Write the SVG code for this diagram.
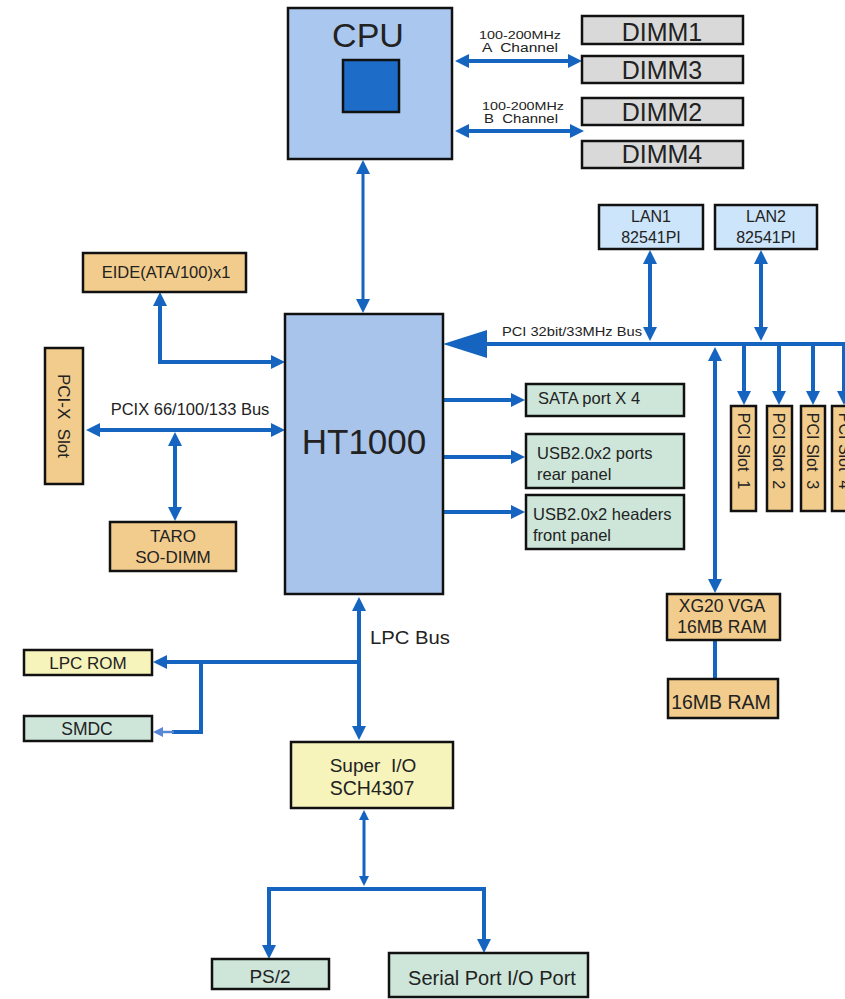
<svg xmlns="http://www.w3.org/2000/svg" width="845" height="999" viewBox="0 0 845 999">
<style>
.box{stroke:#111;stroke-width:2.5}
.cpu{fill:#aac8ef}
.ht{fill:#a9c4ea}
.gray{fill:#d9d9d9}
.org{fill:#f2cc8c}
.grn{fill:#cde6d9}
.yel{fill:#f6f3bb}
.lan{fill:#cde5fa}
text{font-family:"Liberation Sans",Arial,sans-serif;fill:#222;white-space:pre}
.c{text-anchor:middle}
.ln{fill:none;stroke:#1565c0;stroke-width:4}
</style>
<defs>
<marker id="a" viewBox="0 0 14 14" markerWidth="14" markerHeight="14" refX="10" refY="7" orient="auto-start-reverse" markerUnits="userSpaceOnUse"><path d="M0,0 L14,7 L0,14 z" fill="#1565c0"/></marker>
<marker id="s" viewBox="0 0 10 10" markerWidth="10" markerHeight="10" refX="7" refY="5" orient="auto-start-reverse" markerUnits="userSpaceOnUse"><path d="M0,0 L10,5 L0,10 z" fill="#1565c0"/></marker>
<marker id="t" viewBox="0 0 10 10" markerWidth="10" markerHeight="10" refX="7" refY="5" orient="auto-start-reverse" markerUnits="userSpaceOnUse"><path d="M0,0 L10,5 L0,10 z" fill="#5a86d6"/></marker>
</defs>
<rect width="845" height="999" fill="#fff"/>

<g id="connectors">
<path class="ln" d="M459,61 H578" marker-start="url(#a)" marker-end="url(#a)"/>
<path class="ln" d="M459,131 H580" marker-start="url(#a)" marker-end="url(#a)"/>
<path class="ln" style="stroke-width:3" d="M363,164 V309" marker-start="url(#a)" marker-end="url(#a)"/>
<path class="ln" d="M160,296 V362 H281" marker-start="url(#a)" marker-end="url(#a)"/>
<path class="ln" d="M90,430 H281" marker-start="url(#a)" marker-end="url(#a)"/>
<path class="ln" d="M175,436 V517" marker-start="url(#a)" marker-end="url(#a)"/>
<path class="ln" d="M444,400 H521" marker-end="url(#a)"/>
<path class="ln" d="M444,457 H521" marker-end="url(#a)"/>
<path class="ln" d="M444,512 H521" marker-end="url(#a)"/>
<path class="ln" d="M484,344 H845"/>
<polygon points="443,344 487,330 487,358" fill="#1565c0"/>
<path class="ln" d="M650,254 V337" marker-start="url(#a)" marker-end="url(#a)"/>
<path class="ln" d="M761,254 V337" marker-start="url(#a)" marker-end="url(#a)"/>
<path class="ln" d="M744,344 V401" marker-end="url(#a)"/>
<path class="ln" d="M779,344 V401" marker-end="url(#a)"/>
<path class="ln" d="M813,344 V401" marker-end="url(#a)"/>
<path class="ln" d="M844,344 V401" marker-end="url(#a)"/>
<path class="ln" d="M715,351 V589" marker-start="url(#a)" marker-end="url(#a)"/>
<path class="ln" d="M715,640 V679"/>
<path class="ln" d="M359,601 V736" marker-start="url(#a)" marker-end="url(#a)"/>
<path class="ln" d="M359,662 H157" marker-end="url(#a)"/>
<path class="ln" d="M201,662 V732 H172"/>
<path fill="none" stroke="#5a86d6" stroke-width="2.5" d="M174,732 H156" marker-end="url(#t)"/>
<path class="ln" style="stroke-width:3" d="M364,813 V883" marker-start="url(#s)" marker-end="url(#s)"/>
<path class="ln" d="M269,955 V889 H484 V949" marker-start="url(#a)" marker-end="url(#a)"/>
</g>

<g id="cpu">
<rect class="box cpu" x="288" y="8" width="164" height="151"/>
<rect x="343" y="60" width="56" height="52" fill="#1c6cc8" stroke="#111" stroke-width="2.5"/>
<text class="c" x="368" y="47" font-size="34">CPU</text>
</g>

<g id="dimm1"><rect class="box gray" x="582" y="16" width="161" height="28"/><text class="c" x="662" y="41" font-size="25">DIMM1</text></g>
<g id="dimm3"><rect class="box gray" x="582" y="56" width="161" height="27"/><text class="c" x="662" y="79" font-size="25">DIMM3</text></g>
<g id="dimm2"><rect class="box gray" x="582" y="98" width="161" height="27"/><text class="c" x="662" y="121" font-size="25">DIMM2</text></g>
<g id="dimm4"><rect class="box gray" x="582" y="141" width="161" height="27"/><text class="c" x="662" y="163" font-size="25">DIMM4</text></g>

<g id="labels-mem">
<text class="c" x="520" y="39" font-size="11" textLength="82" lengthAdjust="spacingAndGlyphs">100-200MHz</text>
<text class="c" x="520" y="52" font-size="12" textLength="76" lengthAdjust="spacingAndGlyphs">A  Channel</text>
<text class="c" x="523" y="110" font-size="11" textLength="82" lengthAdjust="spacingAndGlyphs">100-200MHz</text>
<text class="c" x="521" y="123" font-size="12" textLength="74" lengthAdjust="spacingAndGlyphs">B  Channel</text>
</g>

<g id="ht1000">
<rect class="box ht" x="285" y="314" width="158" height="280"/>
<text class="c" x="364" y="454" font-size="35">HT1000</text>
</g>

<g id="eide"><rect class="box org" x="83" y="253" width="163" height="39"/><text class="c" x="166" y="278" font-size="16.5">EIDE(ATA/100)x1</text></g>

<g id="pcix-slot"><rect class="box org" x="45" y="348" width="38" height="136"/><text class="c" font-size="17" transform="translate(64,416) rotate(90)" y="6">PCI-X  Slot</text></g>

<text x="190" y="415" class="c" font-size="16.5">PCIX 66/100/133 Bus</text>

<g id="taro"><rect class="box org" x="110" y="522" width="126" height="49"/><text class="c" x="173" y="542" font-size="17">TARO</text><text class="c" x="173" y="563" font-size="17">SO-DIMM</text></g>

<g id="sata"><rect class="box grn" x="526" y="384" width="158" height="32"/><text x="538" y="404" font-size="16.5">SATA port X 4</text></g>
<g id="usb-rear"><rect class="box grn" x="526" y="434" width="158" height="54"/><text x="537" y="459" font-size="16.5">USB2.0x2 ports</text><text x="537" y="480" font-size="16.5">rear panel</text></g>
<g id="usb-front"><rect class="box grn" x="526" y="495" width="158" height="54"/><text x="533" y="520" font-size="16.5">USB2.0x2 headers</text><text x="533" y="541" font-size="16.5">front panel</text></g>

<g id="lan1"><rect class="box lan" x="599" y="205" width="104" height="44"/><text class="c" x="651" y="222" font-size="16">LAN1</text><text class="c" x="651" y="243" font-size="16">82541PI</text></g>
<g id="lan2"><rect class="box lan" x="715" y="205" width="102" height="44"/><text class="c" x="766" y="222" font-size="16">LAN2</text><text class="c" x="766" y="243" font-size="16">82541PI</text></g>

<text x="502" y="336" font-size="13.5" textLength="140" lengthAdjust="spacingAndGlyphs">PCI 32bit/33MHz Bus</text>

<g id="pci1"><rect class="box org" x="731" y="406" width="25" height="105"/><text class="c" font-size="16" transform="translate(744,451) rotate(90)" y="6">PCI Slot  1</text></g>
<g id="pci2"><rect class="box org" x="767" y="406" width="25" height="105"/><text class="c" font-size="16" transform="translate(779,451) rotate(90)" y="6">PCI Slot  2</text></g>
<g id="pci3"><rect class="box org" x="801" y="406" width="24" height="105"/><text class="c" font-size="16" transform="translate(813,451) rotate(90)" y="6">PCI Slot  3</text></g>
<g id="pci4"><rect class="box org" x="832" y="406" width="25" height="105"/><text class="c" font-size="16" transform="translate(845,451) rotate(90)" y="6">PCI Slot  4</text></g>

<g id="xg20"><rect class="box org" x="667" y="594" width="113" height="46"/><text class="c" x="722" y="612" font-size="17.5">XG20 VGA</text><text class="c" x="722" y="633" font-size="17.5">16MB RAM</text></g>
<g id="ram16"><rect class="box org" x="668" y="679" width="110" height="39"/><text class="c" x="721" y="709" font-size="19.5">16MB RAM</text></g>

<text x="370" y="644" font-size="18" textLength="80" lengthAdjust="spacingAndGlyphs">LPC Bus</text>

<g id="lpc-rom"><rect class="box yel" x="24" y="650" width="128" height="25"/><text class="c" x="88" y="669" font-size="17">LPC ROM</text></g>
<g id="smdc"><rect class="box grn" x="24" y="716" width="128" height="25"/><text class="c" x="87" y="735" font-size="17.5">SMDC</text></g>

<g id="superio"><rect class="box yel" x="291" y="742" width="162" height="66"/><text class="c" x="373" y="772" font-size="19">Super  I/O</text><text class="c" x="372" y="795" font-size="19.5">SCH4307</text></g>

<g id="ps2"><rect class="box grn" x="212" y="959" width="117" height="30"/><text class="c" x="270" y="983" font-size="19">PS/2</text></g>
<g id="serial"><rect class="box grn" x="389" y="953" width="199" height="44"/><text class="c" x="492" y="985" font-size="20">Serial Port I/O Port</text></g>
</svg>
